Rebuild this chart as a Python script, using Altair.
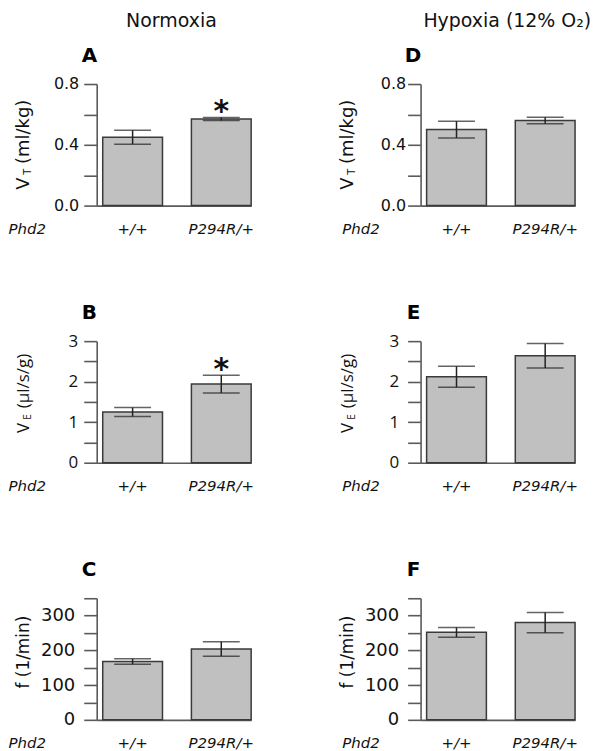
import altair as alt
import pandas as pd

genotypes = ["+/+", "P294R/+"]

# Normoxia
vt_norm = [0.45, 0.57]
vt_norm_err = [0.046, 0.010]
ve_norm = [1.25, 1.94]
ve_norm_err = [0.11, 0.22]
f_norm = [168, 204]
f_norm_err = [8, 21]
# Hypoxia (12% O2)
vt_hyp = [0.50, 0.56]
vt_hyp_err = [0.055, 0.022]
ve_hyp = [2.12, 2.64]
ve_hyp_err = [0.26, 0.30]
f_hyp = [252, 280]
f_hyp_err = [14, 29]

stars_vt_norm = ["", "*"]
stars_ve_norm = ["", "*"]
stars_none = ["", ""]

vt_ticks = [0, 0.2, 0.4, 0.6, 0.8]
ve_ticks = [0, 0.5, 1, 1.5, 2, 2.5, 3]
f_ticks = [0, 50, 100, 150, 200, 250, 300, 350]

FONT = "DejaVu Sans"
FONT2 = "Open Sans"
AXIS_COL = "#5a5a5a"
ERR_COL = "#222222"


def panel(letter, means, errs, stars, ymax, ticks, label_expr, tfont, tsize,
          lpad, title_parts, letter_dx, phd_x, header=None, header_dx=0):
    df = pd.DataFrame({
        "g": genotypes,
        "m": means,
        "lo": [m - e for m, e in zip(means, errs)],
        "hi": [m + e for m, e in zip(means, errs)],
        "s": stars,
    })
    xenc = alt.X(
        "g:N", sort=genotypes,
        scale=alt.Scale(paddingInner=0.326, paddingOuter=0.034, align=1),
        axis=alt.Axis(
            title="Phd2", titleX=phd_x, titleY=16, titleAlign="left",
            titleBaseline="top", titleAngle=0, titleFontStyle="italic",
            titleFontWeight="normal", titleFont=FONT, titleFontSize=15,
            titleColor="#111",
            labelAngle=0, labelFontStyle="italic", labelFont=FONT,
            labelFontSize=15, labelPadding=16, labelColor="#111",
            ticks=False, domainColor=AXIS_COL, domainWidth=1.6,
        ),
    )
    yaxis = alt.Axis(
        title=None, values=ticks, labelExpr=label_expr, tickSize=13,
        tickColor=AXIS_COL, tickWidth=1.6, domainColor=AXIS_COL,
        domainWidth=1.6, grid=False, labelFont=tfont, labelFontSize=tsize,
        labelPadding=lpad, labelColor="#111",
    )
    yscale = alt.Scale(domain=[0, ymax], nice=False, zero=True)

    base = alt.Chart(df)
    bars = base.mark_bar(fill="#c0c0c0", stroke="#3a3a3a", strokeWidth=1.5).encode(
        x=xenc, y=alt.Y("m:Q", scale=yscale, axis=yaxis))
    rule = base.mark_rule(color=ERR_COL, strokeWidth=1.5).encode(
        x=xenc, y=alt.Y("lo:Q", scale=yscale, axis=yaxis), y2="hi:Q")
    cap_hi = base.mark_tick(color=ERR_COL, thickness=1.5, size=37).encode(
        x=xenc, y=alt.Y("hi:Q", scale=yscale, axis=yaxis))
    cap_lo = base.mark_tick(color=ERR_COL, thickness=1.5, size=37).encode(
        x=xenc, y=alt.Y("lo:Q", scale=yscale, axis=yaxis))
    star = base.mark_text(fontSize=30, fontWeight="bold", font=FONT,
                          baseline="alphabetic", dy=4, color="#111").encode(
        x=xenc, y=alt.Y("hi:Q", scale=yscale, axis=yaxis), text="s:N")

    one = alt.Chart(pd.DataFrame({"k": [0]}))
    layers = [bars, rule, cap_hi, cap_lo, star]
    for txt, fs, ypos, xpos, fnt in title_parts:
        layers.append(one.mark_text(text=txt, angle=270, align="center",
                                    baseline="alphabetic", fontSize=fs,
                                    font=fnt, color="#111").encode(
            x=alt.value(xpos), y=alt.value(ypos)))
    layers.append(one.mark_text(text=letter, align="left", baseline="alphabetic",
                                fontSize=20, fontWeight="bold", font=FONT,
                                color="#000").encode(
            x=alt.value(letter_dx), y=alt.value(-22)))
    if header is not None:
        layers.append(one.mark_text(text=header, align="center",
                                    baseline="alphabetic", fontSize=19,
                                    font=FONT, color="#111").encode(
            x=alt.value(header_dx), y=alt.value(-57)))
    return alt.layer(*layers).properties(width=155, height=122)


vt_expr = "(round(datum.value*10) % 4 == 0) ? format(datum.value, '.1f') : ''"
ve_expr = "(datum.value % 1 == 0) ? format(datum.value, 'd') : ''"
f_expr = "(datum.value % 100 == 0) ? format(datum.value, 'd') : ''"

vt_title = [("(ml/kg)", 18, 48, -68, FONT), ("T", 10, 88, -66, FONT), ("V", 18, 100, -68, FONT)]
ve_title = [("(\u03bcl/s/g)", 17, 40, -68, FONT2), ("E", 10, 76, -66, FONT2), ("V", 17, 87, -68, FONT2)]
f_title = [("f (1/min)", 17, 54, -68, FONT)]

A = panel("A", vt_norm, vt_norm_err, stars_vt_norm, 0.8, vt_ticks, vt_expr, FONT, 16, 5,
          vt_title, -15, -89, header="Normoxia", header_dx=75)
B = panel("B", ve_norm, ve_norm_err, stars_ve_norm, 3, ve_ticks, ve_expr, FONT2, 17, 6,
          ve_title, -15, -89)
C = panel("C", f_norm, f_norm_err, stars_none, 350, f_ticks, f_expr, FONT, 18, 9,
          f_title, -15, -89)
D = panel("D", vt_hyp, vt_hyp_err, stars_none, 0.8, vt_ticks, vt_expr, FONT, 16, 2,
          vt_title, -16, -79, header="Hypoxia (12% O\u2082)", header_dx=87)
E = panel("E", ve_hyp, ve_hyp_err, stars_none, 3, ve_ticks, ve_expr, FONT2, 17, 9,
          ve_title, -14, -79)
F = panel("F", f_hyp, f_hyp_err, stars_none, 350, f_ticks, f_expr, FONT, 18, 9,
          f_title, -14, -79)

left = alt.vconcat(A, B, C, spacing=67)
right = alt.vconcat(D, E, F, spacing=67)
chart = alt.hconcat(left, right, spacing=85).properties(
    padding={"top": 3, "left": 0, "right": 0, "bottom": 0}, background="white"
).configure_view(strokeWidth=0)

chart.save("out.html", embed_options={"renderer": "svg", "actions": False})
